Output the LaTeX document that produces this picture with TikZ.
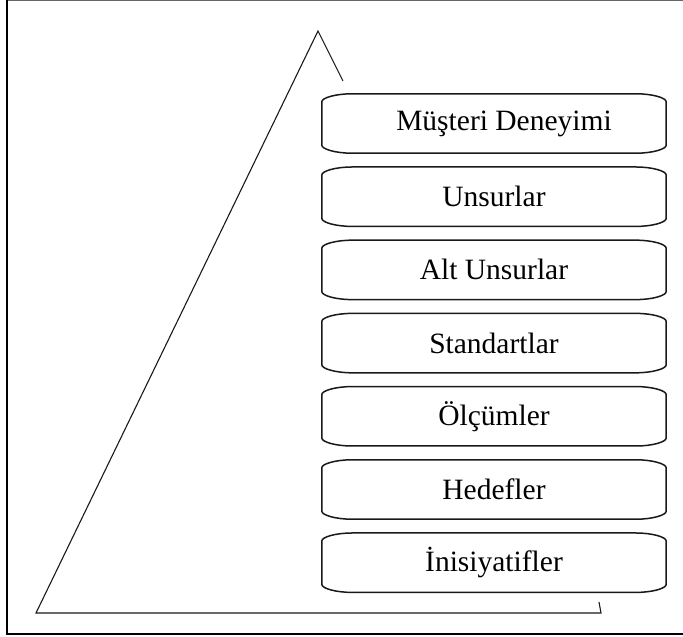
\documentclass[tikz,border=0pt]{standalone}
\usepackage{fontspec}
\setmainfont{Liberation Serif}
\begin{document}
\begin{tikzpicture}[x=1pt,y=1pt,
  tier/.style={rectangle, draw=none, minimum width=344pt, minimum height=59pt,
    inner sep=0pt, font=\fontsize{29.5}{32}\selectfont, text=black},
  tierline/.style={line width=1.5pt, draw=black!90},
  pyramid/.style={line width=1.1pt, draw=black!90},
  frameline/.style={line width=2.2pt, draw=black}]
\useasboundingbox (0,0) rectangle (683,637);

% outer frame
\draw[line width=0.8pt, draw=black!60] (7,636.6) -- (683,636.6);
\draw[frameline] (7,637) -- (7,3) -- (683,3);

% pyramid outline
\coordinate (apex) at (318,606);
\coordinate (rslope) at (343,556);
\coordinate (bl) at (36,24);
\coordinate (br) at (601,24);
\coordinate (tick) at (599,35);
\draw[pyramid] (rslope) -- (apex) -- (bl) -- (br) -- (tick);

% tiers
\node[tier] (b1) at (494,513.5) {\hspace{20pt}Müşteri Deneyimi};
\node[tier] (b2) at (494,440.3) {Unsurlar};
\node[tier] (b3) at (494,367.1) {Alt Unsurlar};
\node[tier] (b4) at (494,293.9) {Standartlar};
\node[tier] (b5) at (494,220.7) {Ölçümler};
\node[tier] (b6) at (494,147.5) {Hedefler};
\node[tier] (b7) at (494,74.3) {İnisiyatifler};

\foreach \n in {b1,b2,b3,b4,b5,b6,b7}
  \draw[tierline]
    ([xshift=30pt]\n.north west) -- ([xshift=-30pt]\n.north east)
    .. controls +(16pt,0pt) and +(0pt,4pt) .. ([yshift=-8pt]\n.north east)
    -- ([yshift=8pt]\n.south east)
    .. controls +(0pt,-4pt) and +(16pt,0pt) .. ([xshift=-30pt]\n.south east)
    -- ([xshift=30pt]\n.south west)
    .. controls +(-16pt,0pt) and +(0pt,-4pt) .. ([yshift=8pt]\n.south west)
    -- ([yshift=-8pt]\n.north west)
    .. controls +(0pt,4pt) and +(-16pt,0pt) .. cycle;
\end{tikzpicture}
\end{document}
